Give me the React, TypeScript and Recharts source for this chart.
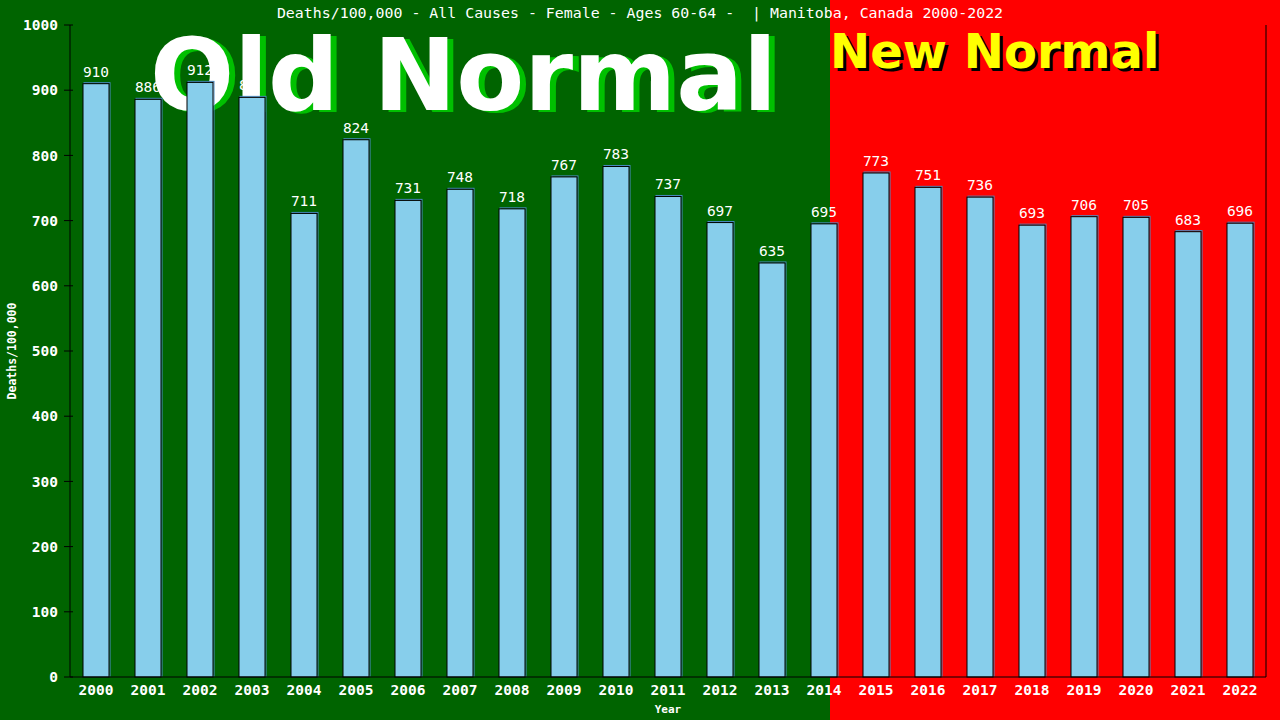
import React from 'react';
import { BarChart, Bar, XAxis, YAxis, LabelList } from 'recharts';

const years = [
  '2000', '2001', '2002', '2003', '2004', '2005', '2006', '2007', '2008', '2009', '2010', '2011',
  '2012', '2013', '2014', '2015', '2016', '2017', '2018', '2019', '2020', '2021', '2022',
];
const deaths = [
  910, 886, 912, 889, 711, 824, 731, 748, 718, 767, 783, 737,
  697, 635, 695, 773, 751, 736, 693, 706, 705, 683, 696,
];
const yTicks = [0, 100, 200, 300, 400, 500, 600, 700, 800, 900, 1000];

const data = years.map((year, i) => ({ year, value: deaths[i] }));

const MONO = '"DejaVu Sans Mono", monospace';
const SIZE = { width: 1280, height: 720 };
const MARGIN = { top: 25, right: 0, bottom: 13, left: 0 };

// bar with a thin blue edge peeking out top-right
const BarShape = (props: any) => {
  const { x, y, width, height } = props;
  return (
    <g>
      <rect x={x + 1} y={y - 1} width={width} height={height} fill="none" stroke="#4a8cc4" />
      <rect x={x} y={y} width={width} height={height} fill="#87ceeb" stroke="#000" />
    </g>
  );
};

const NoShape = () => <g />;

const YTick = (props: any) => {
  const { y, payload } = props;
  return (
    <g>
      <line x1={64} x2={73} y1={y} y2={y} stroke="#000" />
      <text x={58} y={y} dy="0.355em" textAnchor="end" fill="#fff" fontFamily={MONO} fontWeight="bold" fontSize={14.5}>
        {payload.value}
      </text>
    </g>
  );
};

const layer: React.CSSProperties = { position: 'absolute', left: 0, top: 0 };

export default function App() {
  return (
    <div style={{ position: 'absolute', left: 0, top: 0, width: 1280, height: 720, overflow: 'hidden' }}>
      <div style={{ position: 'absolute', left: 0, top: 0, width: 830, height: 720, background: '#006400' }} />
      <div style={{ position: 'absolute', left: 830, top: 0, width: 450, height: 720, background: '#ff0000' }} />
      <div
        style={{
          position: 'absolute', left: 0, width: 1280, top: 5, textAlign: 'center', color: '#fff',
          fontFamily: MONO, fontSize: 14.9, lineHeight: '16px', whiteSpace: 'pre',
        }}
      >
        {'Deaths/100,000 - All Causes - Female - Ages 60-64 -  | Manitoba, Canada 2000-2022'}
      </div>
      <div
        style={{
          position: 'absolute', left: 12, top: 351, transform: 'translate(-50%, -50%) rotate(-90deg)',
          color: '#fff', fontFamily: MONO, fontWeight: 'bold', fontSize: 11.5, whiteSpace: 'nowrap',
        }}
      >
        Deaths/100,000
      </div>
      <div
        style={{
          position: 'absolute', left: 668, top: 709, transform: 'translate(-50%, -50%)',
          color: '#fff', fontFamily: MONO, fontWeight: 'bold', fontSize: 11,
        }}
      >
        Year
      </div>

      {/* value labels sit under the big banner text */}
      <div style={layer}>
        <BarChart {...SIZE} data={data} margin={MARGIN} barCategoryGap="25%">
          <XAxis dataKey="year" height={30} tick={false} tickLine={false} axisLine={false} />
          <YAxis yAxisId="left" width={70} domain={[0, 1000]} ticks={yTicks} tick={false} tickLine={false} axisLine={false} />
          <YAxis yAxisId="right" orientation="right" width={14} domain={[0, 1000]} tick={false} tickLine={false} axisLine={false} />
          <Bar yAxisId="left" dataKey="value" shape={<NoShape />} isAnimationActive={false}>
            <LabelList dataKey="value" position="top" offset={7} fill="#fff" fontFamily={MONO} fontSize={14.5} />
          </Bar>
        </BarChart>
      </div>

      <div
        style={{
          position: 'absolute', left: 150, top: 26, fontFamily: '"DejaVu Sans", sans-serif', fontWeight: 'bold',
          fontSize: 99, lineHeight: 1, color: '#fff', textShadow: '6px 2px 0 #00c000', whiteSpace: 'nowrap',
        }}
      >
        Old Normal
      </div>
      <div
        style={{
          position: 'absolute', left: 830, top: 27, fontFamily: '"DejaVu Sans", sans-serif', fontWeight: 'bold',
          fontSize: 48, lineHeight: 1, color: '#ffff00', textShadow: '3px 3px 0 #000', whiteSpace: 'nowrap',
        }}
      >
        New Normal
      </div>

      <div style={layer}>
        <BarChart {...SIZE} data={data} margin={MARGIN} barCategoryGap="25%">
          <XAxis
            dataKey="year"
            height={30}
            tickLine={false}
            axisLine={{ stroke: '#000' }}
            tick={{ fill: '#fff', fontFamily: MONO, fontWeight: 'bold', fontSize: 14.5 }}
            interval={0}
          />
          <YAxis
            yAxisId="left"
            width={70}
            domain={[0, 1000]}
            ticks={yTicks}
            tickLine={false}
            axisLine={{ stroke: '#000' }}
            tick={<YTick />}
          />
          <YAxis
            yAxisId="right"
            orientation="right"
            width={14}
            domain={[0, 1000]}
            tick={false}
            tickLine={false}
            axisLine={{ stroke: '#000' }}
          />
          <Bar yAxisId="left" dataKey="value" shape={<BarShape />} isAnimationActive={false} />
        </BarChart>
      </div>
    </div>
  );
}
